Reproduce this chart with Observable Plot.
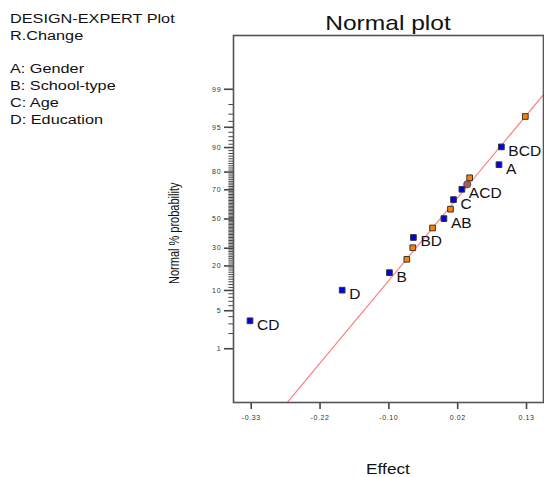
<!DOCTYPE html>
<html>
<head>
<meta charset="utf-8">
<script src="https://cdn.jsdelivr.net/npm/d3@7"></script>
<script src="https://cdn.jsdelivr.net/npm/@observablehq/plot@0.6"></script>
<style>
  html, body { margin: 0; padding: 0; background: #fff; }
  #wrap { position: relative; width: 544px; height: 477px; overflow: hidden; font-family: "Liberation Sans", Arial, sans-serif; }
  #chart { position: absolute; left: 0; top: 0; }
  .ov { position: absolute; white-space: nowrap; color: #111; }
  #side { left: 10px; top: 11.3px; font-size: 12.5px; line-height: 16.7px; transform: scaleX(1.3); transform-origin: 0 0; }
  #title { left: 288px; width: 200px; top: 12.2px; text-align: center; font-size: 21px; line-height: 21px; transform: scaleX(1.17); transform-origin: 50% 0; }
  #xlab { left: 338px; width: 100px; top: 461px; text-align: center; font-size: 15px; line-height: 15px; transform: scaleX(1.15); transform-origin: 50% 0; }
  #ylab { left: 124px; width: 100px; top: 227px; text-align: center; font-size: 11px; line-height: 14px; transform: rotate(-90deg) scale(1, 1.25); transform-origin: 50% 50%; }
  svg g[aria-label="y-axis tick label"] text { letter-spacing: 0.9px; }
  svg g[aria-label="x-axis tick label"] text { letter-spacing: 0.6px; }
</style>
</head>
<body>
<div id="wrap">
  <div id="chart"></div>
  <div class="ov" id="side">DESIGN-EXPERT Plot<br>R.Change<br><br>A: Gender<br>B: School-type<br>C: Age<br>D: Education</div>
  <div class="ov" id="title">Normal plot</div>
  <div class="ov" id="xlab">Effect</div>
  <div class="ov" id="ylab">Normal % probability</div>
</div>
<script>
// ---- data ----
const labeledTerms   = ["CD", "D", "B", "BD", "AB", "C", "ACD", "A", "BCD"];
const labeledEffects = [-0.332, -0.178, -0.099, -0.059, -0.008, 0.008, 0.022, 0.084, 0.088];
const labeledProbs   = [3.4, 10.1, 16.8, 37.0, 50.3, 63.6, 70.3, 83.5, 90.2];

const otherEffects = [-0.070, -0.060, -0.027, 0.003, 0.035, 0.128];
const otherProbs   = [23.5, 30.3, 43.6, 57.0, 77.0, 96.7];

const markerEffects = [0.031];
const markerProbs   = [73.3];

// fitted reference line: z = intercept + slope * effect
const fitIntercept = 0.188;
const fitSlope = 12.89;

const xDomain = [-0.3596, 0.1584];
const xTickValues = [-0.33, -0.215, -0.10, 0.015, 0.13];
const xTickLabels = ["-0.33", "-0.22", "-0.10", "0.02", "0.13"];

const yDomainProbs = [0.05, 99.95];
const yTickValues = [1, 5, 10, 20, 30, 50, 70, 80, 90, 95, 99];
const yTickLabels = ["1", "5", "10", "20", "30", "50", "70", "80", "90", "95", "99"];
const yMinorValues = [2, 3, 4, 6, 7, 8, 9]
  .concat(d3.range(11, 90).filter(v => ![20, 30, 50, 70, 80].includes(v)))
  .concat([91, 92, 93, 94, 96, 97, 98]);

// ---- inverse normal CDF (Acklam) ----
function probit(p) {
  const a = [-3.969683028665376e+01, 2.209460984245205e+02, -2.759285104469687e+02, 1.383577518672690e+02, -3.066479806614716e+01, 2.506628277459239e+00];
  const b = [-5.447609879822406e+01, 1.615858368580409e+02, -1.556989798598866e+02, 6.680131188771972e+01, -1.328068155288572e+01];
  const c = [-7.784894002430293e-03, -3.223964580411365e-01, -2.400758277161838e+00, -2.549732539343734e+00, 4.374664141464968e+00, 2.938163982698783e+00];
  const d = [7.784695709041462e-03, 3.224671290700398e-01, 2.445134137142996e+00, 3.754408661907416e+00];
  const plow = 0.02425, phigh = 1 - plow;
  let q, r;
  if (p < plow) {
    q = Math.sqrt(-2 * Math.log(p));
    return (((((c[0]*q+c[1])*q+c[2])*q+c[3])*q+c[4])*q+c[5]) / ((((d[0]*q+d[1])*q+d[2])*q+d[3])*q+1);
  } else if (p <= phigh) {
    q = p - 0.5; r = q * q;
    return (((((a[0]*r+a[1])*r+a[2])*r+a[3])*r+a[4])*r+a[5])*q / (((((b[0]*r+b[1])*r+b[2])*r+b[3])*r+b[4])*r+1);
  } else {
    q = Math.sqrt(-2 * Math.log(1 - p));
    return -(((((c[0]*q+c[1])*q+c[2])*q+c[3])*q+c[4])*q+c[5]) / ((((d[0]*q+d[1])*q+d[2])*q+d[3])*q+1);
  }
}
const z = pct => probit(pct / 100);

const labeled = labeledTerms.map((t, i) => ({term: t, effect: labeledEffects[i], z: z(labeledProbs[i])}));
const others = otherEffects.map((e, i) => ({effect: e, z: z(otherProbs[i])}));
const markers = markerEffects.map((e, i) => ({effect: e, z: z(markerProbs[i])}));
const fitPts = xDomain.map(e => ({effect: e, z: fitIntercept + fitSlope * e}));

const yMajorZ = yTickValues.map(z);
const yMinorZ = yMinorValues.map(z);
const yLabelFor = v => { const i = yMajorZ.findIndex(m => Math.abs(m - v) < 1e-9); return i >= 0 ? yTickLabels[i] : ""; };
const xLabelFor = v => { const i = xTickValues.findIndex(m => Math.abs(m - v) < 1e-9); return i >= 0 ? xTickLabels[i] : ""; };

const chart = Plot.plot({
  width: 544,
  height: 477,
  marginLeft: 233,
  marginRight: 1,
  marginTop: 35,
  marginBottom: 75,
  style: {fontFamily: "'Liberation Sans', Arial, sans-serif", background: "transparent"},
  x: {domain: xDomain, axis: null, label: null},
  y: {domain: yDomainProbs.map(z), axis: null, label: null},
  marks: [
    Plot.axisY(yMinorZ, {tickSize: 4.6, text: null, label: null, stroke: "#444", strokeWidth: 1}),
    Plot.axisY(yMajorZ, {tickSize: 9, tickPadding: 3, tickFormat: yLabelFor, label: null, fontSize: 7, fill: "#333", stroke: "#444", strokeWidth: 1.6}),
    Plot.axisX(xTickValues, {tickSize: 7, tickPadding: 6, tickFormat: xLabelFor, label: null, fontSize: 7, fill: "#333", stroke: "#444", strokeWidth: 1.6}),
    Plot.line(fitPts, {x: "effect", y: "z", stroke: "#ff8080", strokeWidth: 1.2, clip: true}),
    Plot.dot(markers, {x: "effect", y: "z", r: 3.6, fill: "#a85a58", stroke: "#555", strokeWidth: 1}),
    Plot.dot(others, {x: "effect", y: "z", symbol: "square", r: 3.2, fill: "#ff8000", stroke: "#333", strokeWidth: 1}),
    Plot.dot(labeled, {x: "effect", y: "z", symbol: "square", r: 3.2, fill: "#0000f0", stroke: "#333", strokeWidth: 1}),
    Plot.text(labeled, {x: "effect", y: "z", text: "term", dx: 7, dy: 4, textAnchor: "start", fontSize: 15.5, fill: "#111"}),
    Plot.frame({stroke: "#555", strokeWidth: 1.6})
  ]
});
document.getElementById("chart").appendChild(chart);
</script>
</body>
</html>
